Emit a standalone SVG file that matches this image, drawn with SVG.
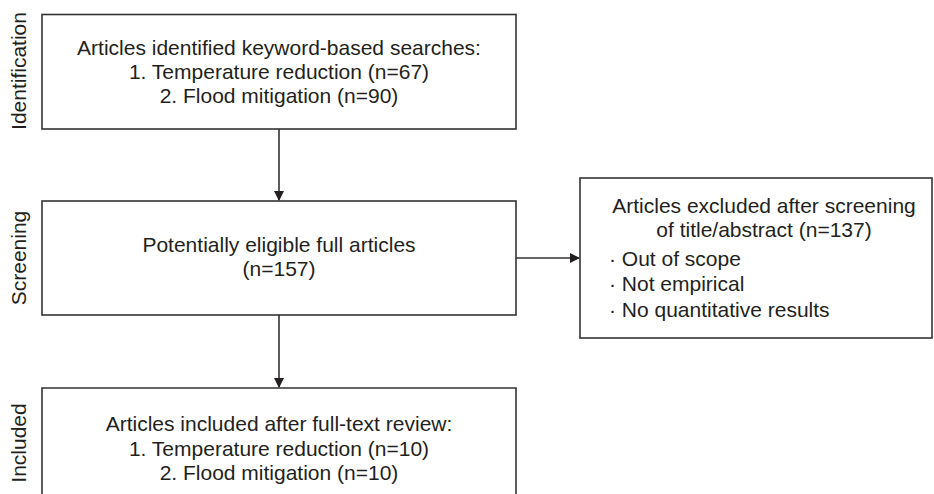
<svg xmlns="http://www.w3.org/2000/svg" width="934" height="494" viewBox="0 0 934 494">
<style>
.box{fill:#fff;stroke:#333;stroke-width:1.6}
.t{font-family:"Liberation Sans",Arial,sans-serif;font-size:21px;fill:#231f20}
.c{text-anchor:middle}
.conn{stroke:#333;stroke-width:1.6;fill:none}
</style>
<defs>
<marker id="ah" markerWidth="10" markerHeight="10" refX="9" refY="5" orient="auto" markerUnits="userSpaceOnUse">
<path d="M0,0 L10,5 L0,10 Z" fill="#231f20"/>
</marker>
</defs>
<rect width="934" height="494" fill="#fff"/>
<g id="stage-labels">
<text class="t c" transform="translate(26,71) rotate(-90)">Identification</text>
<text class="t c" transform="translate(26,258) rotate(-90)">Screening</text>
<text class="t c" transform="translate(26,443) rotate(-90)">Included</text>
</g>
<g id="identification">
<rect class="box" x="42" y="14.5" width="474" height="114.5"/>
<text class="t c" x="279" y="55">Articles identified keyword-based searches:</text>
<text class="t c" x="279" y="79">1. Temperature reduction (n=67)</text>
<text class="t c" x="279" y="103">2. Flood mitigation (n=90)</text>
</g>
<g id="screening">
<rect class="box" x="42" y="201" width="474" height="114"/>
<text class="t c" x="279" y="252">Potentially eligible full articles</text>
<text class="t c" x="279" y="276">(n=157)</text>
</g>
<g id="excluded">
<rect class="box" x="580" y="178" width="352" height="160"/>
<text class="t c" x="764" y="213">Articles excluded after screening</text>
<text class="t c" x="764" y="237">of title/abstract (n=137)</text>
<text class="t" x="609" y="266">· Out of scope</text>
<text class="t" x="609" y="291">· Not empirical</text>
<text class="t" x="609" y="317">· No quantitative results</text>
</g>
<g id="included">
<path class="box" d="M42,500 L42,388 L516,388 L516,500"/>
<text class="t c" x="279" y="431">Articles included after full-text review:</text>
<text class="t c" x="279" y="456">1. Temperature reduction (n=10)</text>
<text class="t c" x="279" y="480">2. Flood mitigation (n=10)</text>
</g>
<g id="connectors">
<line class="conn" x1="279" y1="129" x2="279" y2="200" marker-end="url(#ah)"/>
<line class="conn" x1="279" y1="315" x2="279" y2="387" marker-end="url(#ah)"/>
<line class="conn" x1="516" y1="258" x2="579" y2="258" marker-end="url(#ah)"/>
</g>
</svg>
